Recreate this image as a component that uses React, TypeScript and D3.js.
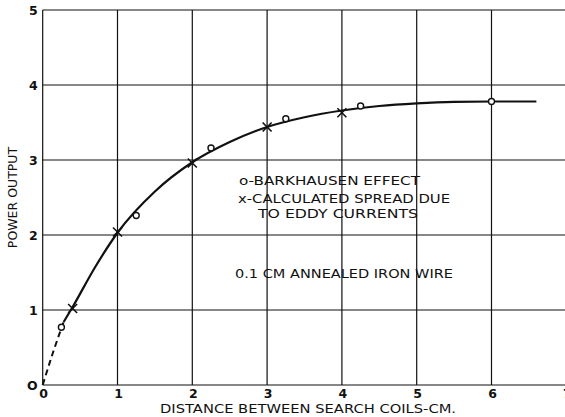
import React from "react";
import * as d3 from "d3";

const xTicks = [0, 1, 2, 3, 4, 5, 6, 7];
const yTicks = [0, 1, 2, 3, 4, 5];
const xTickLabels = ["0", "1", "2", "3", "4", "5", "6", "7"];
const yTickLabels = ["O", "1", "2", "3", "4", "5"];

// Barkhausen effect (circles)
const barkX = [0.25, 1.25, 2.25, 3.25, 4.25, 6.0];
const barkY = [0.77, 2.26, 3.16, 3.55, 3.72, 3.78];

// Calculated spread due to eddy currents (crosses)
const calcX = [0.4, 1.0, 2.0, 3.0, 4.0];
const calcY = [1.02, 2.04, 2.96, 3.44, 3.63];

// Fitted curve: dashed extrapolation to origin, then solid
const dashX = [0, 0.14, 0.28];
const dashY = [0, 0.44, 0.84];
const solidX = [0.28, 0.4, 0.7, 1.0, 1.5, 2.0, 2.5, 3.0, 3.5, 4.0, 4.5, 5.0, 5.5, 6.0, 6.6];
const solidY = [0.84, 1.04, 1.57, 2.03, 2.58, 2.97, 3.24, 3.44, 3.57, 3.66, 3.72, 3.755, 3.775, 3.78, 3.78];

const W = 565;
const H = 417;

export default function App() {
  const x = d3.scaleLinear().domain([0, 7]).range([42.7, 566.3]);
  const y = d3.scaleLinear().domain([0, 5]).range([385, 10]);

  const line = d3
    .line<[number, number]>()
    .x((d) => x(d[0]))
    .y((d) => y(d[1]))
    .curve(d3.curveMonotoneX);

  const dashPts: [number, number][] = dashX.map((v, i) => [v, dashY[i]]);
  const solidPts: [number, number][] = solidX.map((v, i) => [v, solidY[i]]);

  const ink = "#111";
  const font = "'DejaVu Sans', 'Liberation Sans', sans-serif";

  return (
    <svg
      width={W}
      height={H}
      style={{ position: "absolute", left: 0, top: 0, background: "#fff" }}
      fontFamily={font}
    >
      <rect x={0} y={0} width={W} height={H} fill="#fff" />
      {/* grid */}
      {xTicks.map((t) => (
        <line key={"gx" + t} x1={x(t)} x2={x(t)} y1={y(0)} y2={y(5)} stroke={ink} strokeWidth={1.2} />
      ))}
      {yTicks.map((t) => (
        <line key={"gy" + t} x1={x(0)} x2={x(7)} y1={y(t)} y2={y(t)} stroke={ink} strokeWidth={1.2} />
      ))}
      {/* tick labels */}
      {yTicks.map((t, i) => (
        <text
          key={"yl" + t}
          x={x(0) - 5}
          y={y(t) + (t === 0 ? 0 : 0)}
          textAnchor="end"
          dominantBaseline="central"
          fontSize={12.5}
          fontWeight="bold"
          fill={ink}
        >
          {yTickLabels[i]}
        </text>
      ))}
      {xTicks.map((t, i) => (
        <text
          key={"xl" + t}
          x={x(t) + 1}
          y={y(0) + 13}
          textAnchor="middle"
          fontSize={12.5}
          fontWeight="bold"
          fill={ink}
        >
          {xTickLabels[i]}
        </text>
      ))}
      {/* axis titles */}
      <text
        x={160}
        y={413}
        textLength={296}
        lengthAdjust="spacingAndGlyphs"
        fontSize={13}
        fill={ink}
      >
        DISTANCE BETWEEN SEARCH COILS-CM.
      </text>
      <text
        transform={`translate(17, ${y(2.5)}) rotate(-90)`}
        textAnchor="middle"
        fontSize={12.5}
        fill={ink}
      >
        POWER OUTPUT
      </text>
      {/* curve */}
      <path d={line(dashPts) || ""} fill="none" stroke={ink} strokeWidth={2} strokeDasharray="6,4" />
      <path d={line(solidPts) || ""} fill="none" stroke={ink} strokeWidth={2.2} />
      {/* markers */}
      {calcX.map((v, i) => {
        const cx = x(v);
        const cy = y(calcY[i]);
        const s = 4.5;
        return (
          <g key={"c" + i} stroke={ink} strokeWidth={1.6}>
            <line x1={cx - s} y1={cy - s} x2={cx + s} y2={cy + s} />
            <line x1={cx - s} y1={cy + s} x2={cx + s} y2={cy - s} />
          </g>
        );
      })}
      {barkX.map((v, i) => (
        <circle key={"b" + i} cx={x(v)} cy={y(barkY[i])} r={3} fill="#fff" stroke={ink} strokeWidth={1.4} />
      ))}
      {/* legend / annotations */}
      <g fontSize={13} fill={ink}>
        <text x={239} y={185} textLength={181} lengthAdjust="spacingAndGlyphs">o-BARKHAUSEN EFFECT</text>
        <text x={238} y={203} textLength={212} lengthAdjust="spacingAndGlyphs">x-CALCULATED SPREAD DUE</text>
        <text x={258} y={218} textLength={160} lengthAdjust="spacingAndGlyphs">TO EDDY CURRENTS</text>
        <text x={235} y={278} textLength={218} lengthAdjust="spacingAndGlyphs">0.1 CM  ANNEALED IRON WIRE</text>
      </g>
    </svg>
  );
}
